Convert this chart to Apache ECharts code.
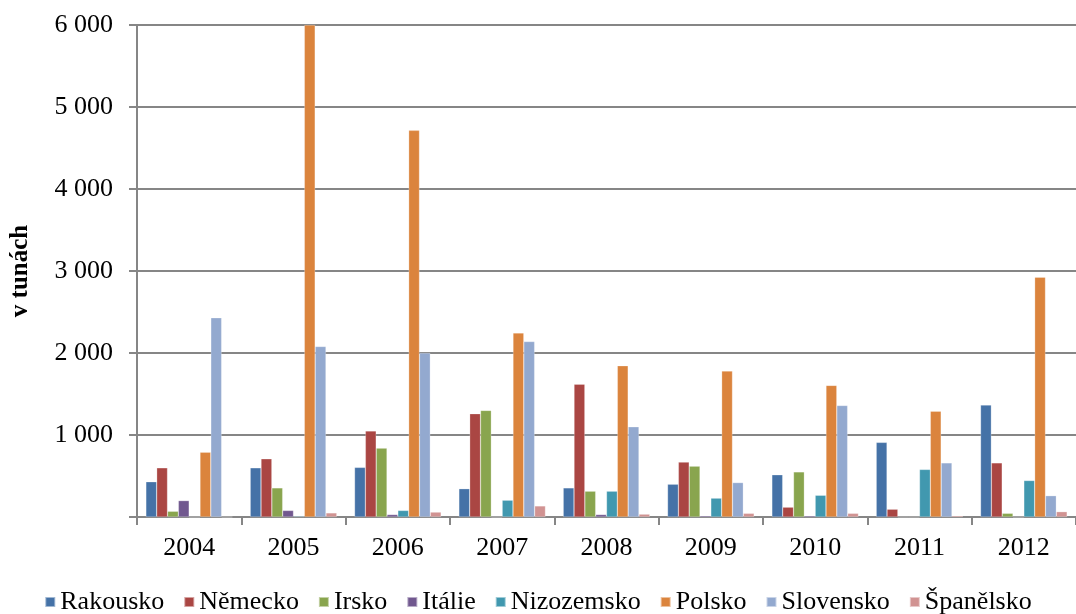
<!DOCTYPE html>
<html>
<head>
<meta charset="utf-8">
<script src="https://cdn.jsdelivr.net/npm/echarts@6/dist/echarts.min.js"></script>
<style>
html,body{margin:0;padding:0;background:#fff;}
#chart{width:1076px;height:614px;}
</style>
</head>
<body>
<div id="chart"></div>
<script>
const years = ['2004','2005','2006','2007','2008','2009','2010','2011','2012'];
const seriesNames = ['Rakousko','Německo','Irsko','Itálie','Nizozemsko','Polsko','Slovensko','Španělsko'];
const colors = ['#4572A7','#AA4643','#89A54E','#71588F','#4198AF','#DB843D','#93A9CF','#D19392'];
const rakousko   = [430, 600, 605, 345, 355, 400, 515, 910, 1365];
const nemecko    = [600, 710, 1050, 1260, 1620, 670, 120, 95, 660];
const irsko      = [70, 355, 840, 1300, 315, 620, 550, 0, 45];
const italie     = [200, 80, 30, 0, 30, 15, 15, 0, 0];
const nizozemsko = [0, 10, 80, 205, 315, 230, 265, 580, 445];
const polsko     = [790, 6000, 4715, 2245, 1845, 1780, 1605, 1290, 2925];
const slovensko  = [2430, 2080, 2000, 2140, 1100, 420, 1360, 660, 260];
const spanelsko  = [0, 50, 60, 135, 35, 45, 45, 15, 65];
const yTicks = [0, 1000, 2000, 3000, 4000, 5000, 6000];

const allData = [rakousko, nemecko, irsko, italie, nizozemsko, polsko, slovensko, spanelsko];
const FONT = 'Liberation Serif';

const chart = echarts.init(document.getElementById('chart'), null, {renderer:'canvas'});
chart.setOption({
  animation: false,
  color: colors,
  grid: {left: 137, right: 0, top: 25, bottom: 97, containLabel: false},
  legend: {
    data: seriesNames,
    top: 584,
    left: 'center',
    itemWidth: 10, itemHeight: 10, itemGap: 19,
    icon: 'rect',
    textStyle: {fontFamily: FONT, fontSize: 26, color: '#000'}
  },
  xAxis: {
    type: 'category',
    data: years,
    axisLine: {lineStyle: {color: '#868686', width: 2}},
    axisTick: {show: true, length: 8, lineStyle: {color: '#868686', width: 2}},
    axisLabel: {fontFamily: FONT, fontSize: 26, color: '#000', margin: 18}
  },
  yAxis: {
    type: 'value',
    min: yTicks[0], max: yTicks[yTicks.length-1], interval: 1000,
    name: 'v tunách',
    nameLocation: 'middle',
    nameGap: 104,
    nameRotate: 90,
    nameTextStyle: {fontFamily: FONT, fontSize: 25, fontWeight: 'bold', color: '#000'},
    axisLine: {show: true, lineStyle: {color: '#868686', width: 2}},
    axisTick: {show: true, inside: false, length: 8, lineStyle: {color: '#868686', width: 2}},
    axisLabel: {
      fontFamily: FONT, fontSize: 26, color: '#000', margin: 24,
      formatter: v => v === 0 ? '' : String(v).replace(/\B(?=(\d{3})+(?!\d))/g, ' ')
    },
    splitLine: {show: true, lineStyle: {color: '#868686', width: 2}}
  },
  series: seriesNames.map((n, i) => ({
    name: n,
    type: 'bar',
    data: allData[i],
    barGap: '0%',
    barCategoryGap: '17%',
    itemStyle: {color: colors[i], borderColor: 'rgba(255,255,255,0.5)', borderWidth: 0.5}
  }))
});
</script>
</body>
</html>
